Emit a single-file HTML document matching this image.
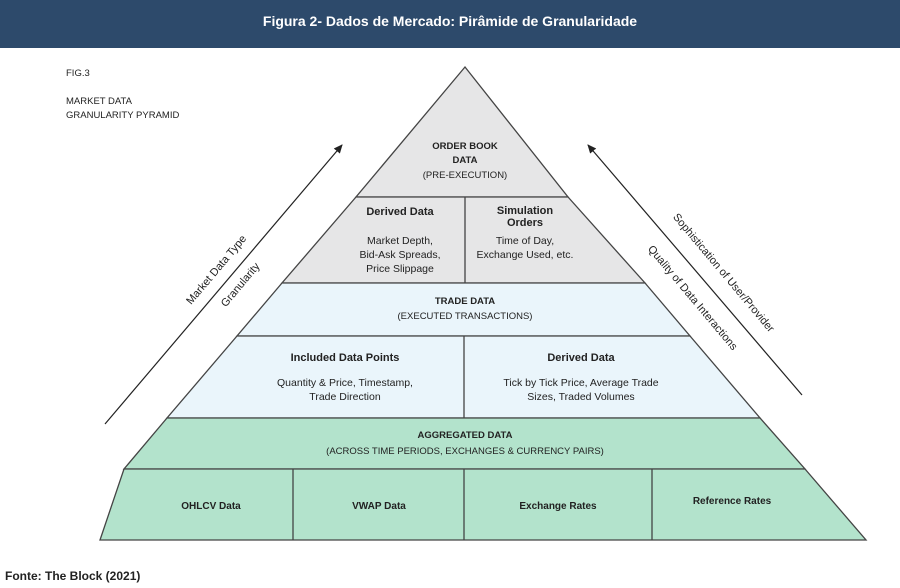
<!DOCTYPE html>
<html><head><meta charset="utf-8"><style>
html,body{margin:0;padding:0;background:#fff;}
svg{display:block;}
text{font-family:"Liberation Sans",sans-serif;fill:#222;}
</style></head><body>
<svg width="900" height="588" viewBox="0 0 900 588" xmlns="http://www.w3.org/2000/svg">
<defs><marker id="ah" markerWidth="10" markerHeight="10" refX="8" refY="5" orient="auto" markerUnits="userSpaceOnUse"><path d="M0,1 L9,5 L0,9 z" fill="#222"/></marker></defs>
<rect x="0" y="0" width="900" height="48" fill="#2d4a6b"/>
<text x="450" y="26" text-anchor="middle" font-size="14" font-weight="bold" style="fill:#fff">Figura 2- Dados de Mercado: Pirâmide de Granularidade</text>
<text x="66" y="76" font-size="9.5" fill="#333">FIG.3</text>
<text x="66" y="104" font-size="9.5">MARKET DATA</text>
<text x="66" y="118" font-size="9.5">GRANULARITY PYRAMID</text>

<g stroke="#444" stroke-width="1.3">
<polygon points="465,67 356,197 568,197" fill="#e6e6e7"/>
<polygon points="356,197 568,197 645,283 282,283" fill="#e6e6e7"/>
<polygon points="282,283 645,283 690,336 237,336" fill="#eaf5fb"/>
<polygon points="237,336 690,336 760,418 167,418" fill="#eaf5fb"/>
<polygon points="167,418 760,418 805,469 124,469" fill="#b3e3cc"/>
<polygon points="124,469 805,469 866,540 100,540" fill="#b3e3cc"/>
<line x1="465" y1="197" x2="465" y2="283"/>
<line x1="464" y1="336" x2="464" y2="418"/>
<line x1="293" y1="469" x2="293" y2="540"/>
<line x1="464" y1="469" x2="464" y2="540"/>
<line x1="652" y1="469" x2="652" y2="540"/>
</g>
<g stroke="#222" stroke-width="1.2">
<line x1="105" y1="424" x2="342" y2="145" marker-end="url(#ah)"/>
<line x1="802" y1="395" x2="588" y2="145" marker-end="url(#ah)"/>
</g>

<g text-anchor="middle" font-size="10.5">
<text x="465" y="149" font-size="9.5" font-weight="bold">ORDER BOOK</text>
<text x="465" y="163" font-size="9.5" font-weight="bold">DATA</text>
<text x="465" y="178" font-size="9.5">(PRE-EXECUTION)</text>
<text x="400" y="215" font-weight="bold" font-size="11">Derived Data</text>
<text x="400" y="244">Market Depth,</text>
<text x="400" y="258">Bid-Ask Spreads,</text>
<text x="400" y="272">Price Slippage</text>
<text x="525" y="214" font-weight="bold" font-size="11">Simulation</text>
<text x="525" y="226" font-weight="bold" font-size="11">Orders</text>
<text x="525" y="244">Time of Day,</text>
<text x="525" y="258">Exchange Used, etc.</text>
<text x="465" y="304" font-size="9.5" font-weight="bold">TRADE DATA</text>
<text x="465" y="319" font-size="9.5">(EXECUTED TRANSACTIONS)</text>
<text x="345" y="361" font-weight="bold" font-size="11">Included Data Points</text>
<text x="345" y="386">Quantity &amp; Price, Timestamp,</text>
<text x="345" y="400">Trade Direction</text>
<text x="581" y="361" font-weight="bold" font-size="11">Derived Data</text>
<text x="581" y="386">Tick by Tick Price, Average Trade</text>
<text x="581" y="400">Sizes, Traded Volumes</text>
<text x="465" y="438" font-size="9.5" font-weight="bold">AGGREGATED DATA</text>
<text x="465" y="454" font-size="9.5">(ACROSS TIME PERIODS, EXCHANGES &amp; CURRENCY PAIRS)</text>
<text x="211" y="509" font-size="10" font-weight="bold">OHLCV Data</text>
<text x="379" y="509" font-size="10" font-weight="bold">VWAP Data</text>
<text x="558" y="509" font-size="10" font-weight="bold">Exchange Rates</text>
<text x="732" y="504" font-size="10" font-weight="bold">Reference Rates</text>
</g>
<g font-size="11" text-anchor="middle">
<text transform="translate(219,272) rotate(-50)">Market Data Type</text>
<text transform="translate(243,287) rotate(-50)">Granularity</text>
<text transform="translate(721,275) rotate(50)">Sophistication of User/Provider</text>
<text transform="translate(690,300) rotate(50)">Quality of Data Interactions</text>
</g>
<text x="5" y="580" font-size="12" font-weight="bold">Fonte: The Block (2021)</text>
</svg>
</body></html>
